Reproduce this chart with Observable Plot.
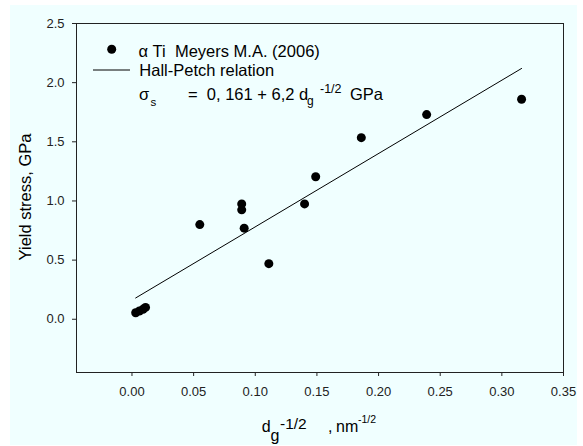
<!DOCTYPE html>
<html><head><meta charset="utf-8">
<script src="https://cdn.jsdelivr.net/npm/d3@7"></script>
<script src="https://cdn.jsdelivr.net/npm/@observablehq/plot@0.6"></script>
<style>
body{margin:0;background:#fff}
#bg{position:absolute;left:10px;top:5px;width:567px;height:440px;background:#f0ffff}
#chart{position:absolute;left:0;top:0;width:583px;height:446px}
</style>
</head><body><div id="bg"></div><div id="chart"></div>
<script>
// Data
const grainX  = [0.003, 0.006, 0.009, 0.011, 0.055, 0.089, 0.089, 0.091, 0.111, 0.140, 0.149, 0.186, 0.239, 0.316];
const stressY = [0.055, 0.070, 0.085, 0.100, 0.800, 0.975, 0.925, 0.770, 0.470, 0.975, 1.205, 1.535, 1.730, 1.860];
const fitX = [0.003, 0.316];
const fitY = [0.180, 2.120];
const xTicks = [0, 0.05, 0.10, 0.15, 0.20, 0.25, 0.30, 0.35];
const yTicks = [0, 0.5, 1.0, 1.5, 2.0, 2.5];
const legendSeries = "α Ti  Meyers M.A. (2006)";
const legendFit = "Hall-Petch relation";
const yLabel = "Yield stress, GPa";

const points = grainX.map((x, i) => ({x, y: stressY[i]}));
const fit = fitX.map((x, i) => ({x, y: fitY[i]}));
const FONT = "'Liberation Sans', Arial, sans-serif";

const chart = Plot.plot({
  width: 583, height: 446,
  marginLeft: 76, marginRight: 20, marginTop: 23, marginBottom: 74,
  style: {fontFamily: FONT, fontSize: "13px", color: "#222", background: "transparent"},
  x: {domain: [-0.045, 0.35], ticks: xTicks, tickFormat: d3.format(".2f"), tickSize: 4, tickPadding: 10, label: null},
  y: {domain: [-0.45, 2.5], ticks: yTicks, tickFormat: d3.format(".1f"), tickSize: 4, tickPadding: 8, label: null},
  marks: [
    Plot.frame({stroke: "#222"}),
    Plot.line(fit, {x: "x", y: "y", stroke: "black", strokeWidth: 1}),
    Plot.dot(points, {x: "x", y: "y", r: 4.5, fill: "black"})
  ]
});

const svg = d3.select(chart);
const g = svg.append("g").attr("font-family", FONT).attr("fill", "black").attr("text-anchor", "start");
function txt(x, y, s, size) {
  return g.append("text").attr("x", x).attr("y", y).attr("font-size", size).text(s);
}
// Legend
g.append("circle").attr("cx", 111.7).attr("cy", 49.3).attr("r", 4.5).attr("fill", "black");
txt(138.5, 57, legendSeries, 16.5);
g.append("line").attr("x1", 93).attr("x2", 130).attr("y1", 70).attr("y2", 70).attr("stroke", "black").attr("stroke-width", 1);
txt(139.3, 76, legendFit, 16.5);
txt(139, 100, "σ", 16.5);
txt(150.5, 106, "s", 11.5);
txt(188, 100, "=  0, 161 + 6,2 d", 16.5);
txt(307, 105, "g", 12);
txt(320, 93, "-1/2", 12.5);
txt(350, 100, "GPa", 16.5);

// Axis titles
txt(0, 0, yLabel, 16.5).attr("text-anchor", "middle").attr("transform", "translate(31,197) rotate(-90)");
txt(261.7, 432, "d", 16);
txt(270.5, 441, "g", 16);
txt(280, 429, "-1/2", 15.5);
txt(328, 432, ",", 16);
txt(336, 432, "nm", 16);
txt(358, 423, "-1/2", 10.5);

document.getElementById("chart").appendChild(chart);
</script>
</body></html>
